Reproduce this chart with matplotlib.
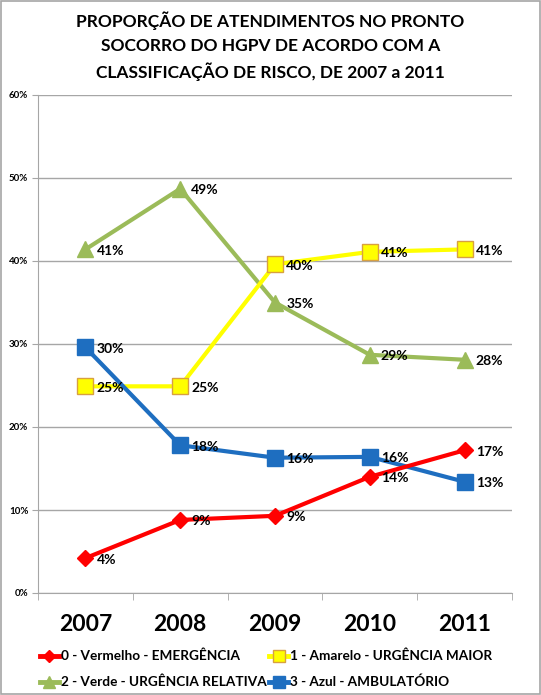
import matplotlib
matplotlib.use("Agg")
import matplotlib.pyplot as plt
from matplotlib.lines import Line2D
from matplotlib.patches import Rectangle

plt.rcParams['font.family'] = ['Lato', 'DejaVu Sans']

years = ["2007", "2008", "2009", "2010", "2011"]
vermelho = [4.2, 8.8, 9.3, 14.0, 17.2]
amarelo = [24.9, 24.9, 39.6, 41.1, 41.4]
verde = [41.4, 48.7, 35.0, 28.7, 28.1]
azul = [29.6, 17.8, 16.3, 16.4, 13.4]
labels = ["0 - Vermelho - EMERGÊNCIA", "1 - Amarelo - URGÊNCIA MAIOR",
          "2 - Verde - URGÊNCIA RELATIVA", "3 - Azul - AMBULATÓRIO"]
title = "PROPORÇÃO DE ATENDIMENTOS NO PRONTO\nSOCORRO DO HGPV DE ACORDO COM A\nCLASSIFICAÇÃO DE RISCO, DE 2007 a 2011"

fig = plt.figure(figsize=(5.41, 6.95), dpi=100)
fig.patches.append(Rectangle((0.001, 0.001), 0.997, 0.997, transform=fig.transFigure,
                             fill=False, edgecolor='#A6A6A6', linewidth=1.2))
ax = fig.add_axes([38/541, 1-593/695, (512-38)/541, (593-95)/695])

x = list(range(len(years)))
series = [
    (vermelho, '#FF0000', 'D', 8, '#FF0000', '#FF0000', labels[0]),
    (amarelo, '#FFFF00', 's', 11, '#FFFF00', '#D8A040', labels[1]),
    (verde, '#9BBB59', '^', 12, '#9BBB59', '#9BBB59', labels[2]),
    (azul, '#1E6EC0', 's', 11, '#1E6EC0', '#1E6EC0', labels[3]),
]
handles = []
zs = {0: 5, 1: 3, 2: 2, 3: 4}
for i, (vals, c, m, ms, fc, ec, lab) in enumerate(series):
    ax.plot(x, vals, color=c, lw=3, marker=m, ms=ms, mfc=fc, mec=ec, mew=1,
            zorder=zs[i], clip_on=False)
    for xi, v in zip(x, vals):
        ax.annotate(f"{round(v):.0f}%", (xi, v), xytext=(8, -1), textcoords='offset points',
                    ha='left', va='center', fontsize=10, fontweight='bold', color='black',
                    zorder=10)
    handles.append(Line2D([], [], color=c, lw=3.5, marker=m, ms=ms*0.75, mfc=fc, mec=ec, mew=1))

ax.set_xlim(-0.5, 4.5)
ax.set_ylim(0, 60)
ax.set_yticks(range(0, 61, 10))
ax.set_yticklabels([f"{v}%" for v in range(0, 61, 10)], fontsize=7, fontweight='bold')
ax.yaxis.grid(True, color='#A6A6A6', lw=1)
ax.set_axisbelow(True)
ax.set_xticks(x)
ax.set_xticklabels(years, fontsize=16.5, fontweight='bold')
ax.set_xticks([-0.5 + k for k in range(6)], minor=True)
ax.tick_params(axis='x', which='major', length=0, pad=15)
ax.tick_params(axis='x', which='minor', length=5, color='#A6A6A6', direction='out')
ax.tick_params(axis='y', length=4, color='#A6A6A6', pad=3)
for s in ['top', 'right']:
    ax.spines[s].set_visible(False)
for s in ['left', 'bottom']:
    ax.spines[s].set_color('#A6A6A6')

fig.text(0.5, 0.983, title, ha='center', va='top', fontsize=12.5, fontweight='bold',
         linespacing=1.55)

hs = [handles[0], handles[2], handles[1], handles[3]]
ls = [labels[0], labels[2], labels[1], labels[3]]
fig.legend(hs, ls, ncol=2, loc='upper left', bbox_to_anchor=(33/541, 1-643/695),
           frameon=False, prop={'size': 9.8, 'weight': 'bold'}, handlelength=1.4,
           handletextpad=0.15, columnspacing=0.2, labelspacing=1.0, borderpad=0)

fig.savefig("out.png", dpi=100)
